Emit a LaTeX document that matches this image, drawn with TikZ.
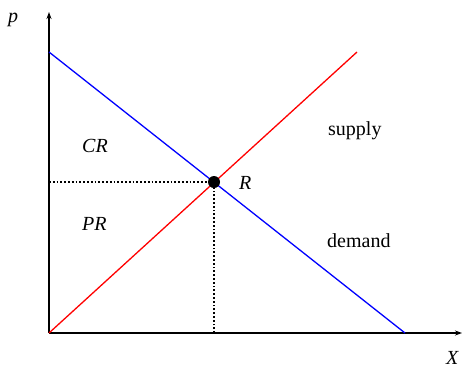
\documentclass[tikz,border=0pt]{standalone}
\usepackage{fontspec}
\setmainfont{Liberation Serif}
\usetikzlibrary{arrows.meta}
\begin{document}
\begin{tikzpicture}[x=1pt,y=-1pt,every node/.style={font=\fontsize{20}{23}\selectfont},
  axis/.style={line width=1.6pt,-{Stealth[length=7pt,width=5pt]}},
  curve/.style={line width=1.3pt},
  guide/.style={line width=1.8pt,dotted},
  lbl/.style={inner sep=0pt,anchor=base west}]
\useasboundingbox (0,0) rectangle (462,370);
\coordinate (o) at (49,333);
\coordinate (ytop) at (49,12);
\coordinate (xend) at (462,333);
\coordinate (dtop) at (49,52);
\coordinate (dbot) at (405,333);
\coordinate (stop) at (357,52);
\coordinate (yr) at (49,182);
\coordinate (xr) at (214,333);
\draw[axis] (o)--(ytop);
\draw[axis] (o)--(xend);
\draw[curve,blue] (dtop)--(dbot);
\draw[curve,red] (o)--(stop);
% equilibrium
\draw[guide] (yr)--(214,182);
\draw[guide] (xr)--(214,182);
\node[circle,fill=black,minimum size=12pt,inner sep=0pt] (r) at (214,182) {};
\node[lbl] (rlab) at (239,189) {\textit{R}};
\node[lbl] (cr) at (82,152) {\textit{CR}};
\node[lbl] (pr) at (82,230) {\textit{PR}};
\node[lbl] (sup) at (328,135) {supply};
\node[lbl] (dem) at (327,247) {demand};
\node[lbl] (plab) at (8,22) {\textit{p}};
\node[lbl] (xlab) at (446,364) {\textit{X}};
\end{tikzpicture}
\end{document}
